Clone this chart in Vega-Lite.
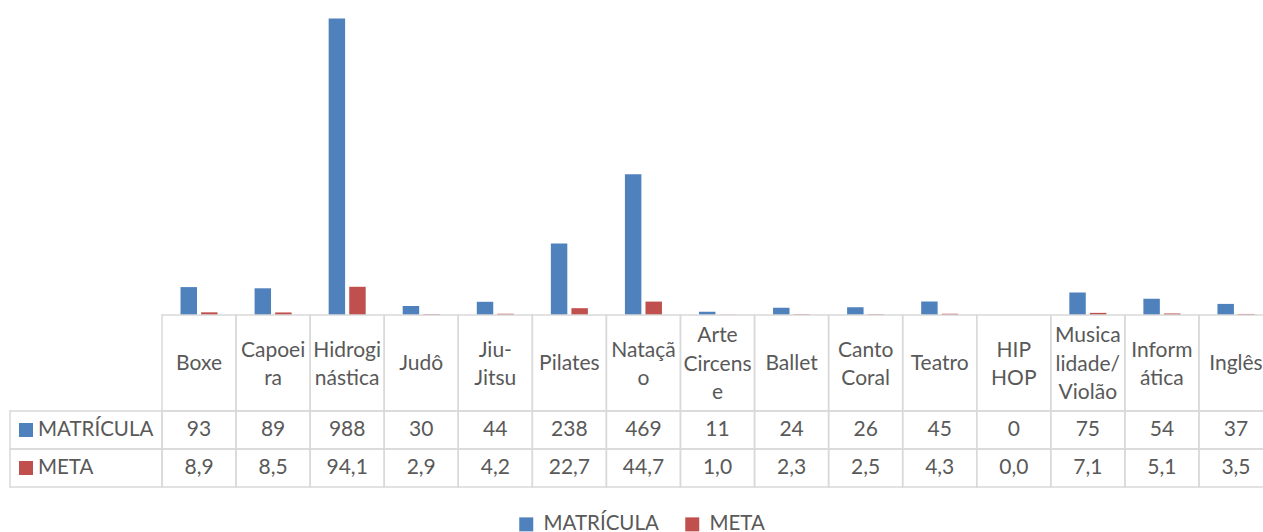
{
  "$schema": "https://vega.github.io/schema/vega-lite/v6.json",
  "padding": {"left": 9, "top": 15, "right": 0, "bottom": 0},
  "datasets": {
    "vals": [
      {"cat": "Boxe", "series": "MATRÍCULA", "value": 93},
      {"cat": "Boxe", "series": "META", "value": 8.9},
      {"cat": "Capoeira", "series": "MATRÍCULA", "value": 89},
      {"cat": "Capoeira", "series": "META", "value": 8.5},
      {"cat": "Hidroginástica", "series": "MATRÍCULA", "value": 988},
      {"cat": "Hidroginástica", "series": "META", "value": 94.1},
      {"cat": "Judô", "series": "MATRÍCULA", "value": 30},
      {"cat": "Judô", "series": "META", "value": 2.9},
      {"cat": "Jiu-Jitsu", "series": "MATRÍCULA", "value": 44},
      {"cat": "Jiu-Jitsu", "series": "META", "value": 4.2},
      {"cat": "Pilates", "series": "MATRÍCULA", "value": 238},
      {"cat": "Pilates", "series": "META", "value": 22.7},
      {"cat": "Natação", "series": "MATRÍCULA", "value": 469},
      {"cat": "Natação", "series": "META", "value": 44.7},
      {"cat": "Arte Circense", "series": "MATRÍCULA", "value": 11},
      {"cat": "Arte Circense", "series": "META", "value": 1.0},
      {"cat": "Ballet", "series": "MATRÍCULA", "value": 24},
      {"cat": "Ballet", "series": "META", "value": 2.3},
      {"cat": "Canto Coral", "series": "MATRÍCULA", "value": 26},
      {"cat": "Canto Coral", "series": "META", "value": 2.5},
      {"cat": "Teatro", "series": "MATRÍCULA", "value": 45},
      {"cat": "Teatro", "series": "META", "value": 4.3},
      {"cat": "HIP HOP", "series": "MATRÍCULA", "value": 0},
      {"cat": "HIP HOP", "series": "META", "value": 0.0},
      {"cat": "Musicalidade/Violão", "series": "MATRÍCULA", "value": 75},
      {"cat": "Musicalidade/Violão", "series": "META", "value": 7.1},
      {"cat": "Informática", "series": "MATRÍCULA", "value": 54},
      {"cat": "Informática", "series": "META", "value": 5.1},
      {"cat": "Inglês", "series": "MATRÍCULA", "value": 37},
      {"cat": "Inglês", "series": "META", "value": 3.5}
    ],
    "cats": [
      {"cat": "Boxe", "label": ["Boxe"]},
      {"cat": "Capoeira", "label": ["Capoei", "ra"]},
      {"cat": "Hidroginástica", "label": ["Hidrogi", "nástica"]},
      {"cat": "Judô", "label": ["Judô"]},
      {"cat": "Jiu-Jitsu", "label": ["Jiu-", "Jitsu"]},
      {"cat": "Pilates", "label": ["Pilates"]},
      {"cat": "Natação", "label": ["Nataçã", "o"]},
      {"cat": "Arte Circense", "label": ["Arte", "Circens", "e"]},
      {"cat": "Ballet", "label": ["Ballet"]},
      {"cat": "Canto Coral", "label": ["Canto", "Coral"]},
      {"cat": "Teatro", "label": ["Teatro"]},
      {"cat": "HIP HOP", "label": ["HIP", "HOP"]},
      {"cat": "Musicalidade/Violão", "label": ["Musica", "lidade/", "Violão"]},
      {"cat": "Informática", "label": ["Inform", "ática"]},
      {"cat": "Inglês", "label": ["Inglês"]}
    ],
    "series": [
      {"series": "MATRÍCULA"},
      {"series": "META"}
    ]
  },
  "columns": 2,
  "spacing": 0,
  "bounds": "flush",
  "concat": [
    {
      "width": 152, "height": 300,
      "data": {"values": []},
      "mark": "point"
    },
    {
      "width": 1111, "height": 300,
      "data": {"name": "vals"},
      "mark": {"type": "bar"},
      "encoding": {
        "x": {"field": "cat", "type": "nominal", "sort": null, "axis": null, "scale": {"paddingInner": 0, "paddingOuter": 0}},
        "xOffset": {"field": "series", "type": "nominal", "sort": ["MATRÍCULA", "META"], "scale": {"paddingInner": 0.2, "paddingOuter": 0.9}},
        "y": {"field": "value", "type": "quantitative", "axis": null, "scale": {"domain": [0, 1000]}},
        "color": {
          "field": "series", "type": "nominal",
          "scale": {"domain": ["MATRÍCULA", "META"], "range": ["#4F81BD", "#C0504D"]},
          "legend": {
            "orient": "none", "legendX": 506, "legendY": 499,
            "direction": "horizontal", "title": null,
            "symbolType": "square", "symbolSize": 196, "symbolStrokeWidth": 0,
            "labelFont": "Lato", "labelFontSize": 20.5, "labelColor": "#595959",
            "labelOffset": 7, "columnPadding": 23, "padding": 0
          }
        }
      }
    },
    {
      "width": 152, "height": 96,
      "data": {"values": []},
      "mark": "point"
    },
    {
      "width": 1111, "height": 96,
      "data": {"name": "cats"},
      "encoding": {
        "x": {"field": "cat", "type": "nominal", "sort": null, "axis": null, "scale": {"paddingInner": 0, "paddingOuter": 0}}
      },
      "layer": [
        {
          "mark": {"type": "rect", "filled": false, "color": "#d9d9d9", "strokeWidth": 1.5}
        },
        {
          "transform": [{"filter": "length(datum.label) == 1"}],
          "mark": {"type": "text", "font": "Lato", "fontSize": 21, "color": "#595959", "lineHeight": 28.5, "baseline": "middle", "align": "center", "dy": 1},
          "encoding": {
            "x": {"field": "cat", "type": "nominal", "sort": null, "axis": null, "bandPosition": 0.5},
            "text": {"field": "label"}
          }
        },
        {
          "transform": [{"filter": "length(datum.label) == 2"}],
          "mark": {"type": "text", "font": "Lato", "fontSize": 21, "color": "#595959", "lineHeight": 28.5, "baseline": "middle", "align": "center", "dy": -12.5},
          "encoding": {
            "x": {"field": "cat", "type": "nominal", "sort": null, "axis": null, "bandPosition": 0.5},
            "text": {"field": "label"}
          }
        },
        {
          "transform": [{"filter": "length(datum.label) == 3"}],
          "mark": {"type": "text", "font": "Lato", "fontSize": 21, "color": "#595959", "lineHeight": 28.5, "baseline": "middle", "align": "center", "dy": -27},
          "encoding": {
            "x": {"field": "cat", "type": "nominal", "sort": null, "axis": null, "bandPosition": 0.5},
            "text": {"field": "label"}
          }
        }
      ]
    },
    {
      "width": 152, "height": 76,
      "data": {"name": "series"},
      "encoding": {
        "y": {"field": "series", "type": "nominal", "sort": ["MATRÍCULA", "META"], "axis": null, "scale": {"paddingInner": 0, "paddingOuter": 0}}
      },
      "layer": [
        {
          "mark": {"type": "rect", "filled": false, "color": "#d9d9d9", "strokeWidth": 1.5}
        },
        {
          "mark": {"type": "point", "shape": "square", "filled": true, "size": 196, "opacity": 1, "x": 16},
          "encoding": {
            "y": {"field": "series", "type": "nominal", "sort": ["MATRÍCULA", "META"], "axis": null, "bandPosition": 0.5},
            "color": {"field": "series", "type": "nominal", "scale": {"domain": ["MATRÍCULA", "META"], "range": ["#4F81BD", "#C0504D"]}, "legend": null}
          }
        },
        {
          "mark": {"type": "text", "font": "Lato", "fontSize": 20.5, "color": "#595959", "align": "left", "baseline": "middle", "x": 28},
          "encoding": {
            "y": {"field": "series", "type": "nominal", "sort": ["MATRÍCULA", "META"], "axis": null, "bandPosition": 0.5},
            "text": {"field": "series"}
          }
        }
      ]
    },
    {
      "width": 1111, "height": 76,
      "data": {"name": "vals"},
      "layer": [
        {
          "mark": {"type": "rect", "filled": false, "color": "#d9d9d9", "strokeWidth": 1.5},
          "encoding": {
            "x": {"field": "cat", "type": "nominal", "sort": null, "axis": null, "scale": {"paddingInner": 0, "paddingOuter": 0}},
            "y": {"field": "series", "type": "nominal", "sort": ["MATRÍCULA", "META"], "axis": null, "scale": {"paddingInner": 0, "paddingOuter": 0}}
          }
        },
        {
          "transform": [{"filter": "datum.series === 'MATRÍCULA'"}],
          "mark": {"type": "text", "font": "Lato", "fontSize": 21, "color": "#595959", "baseline": "middle", "align": "center"},
          "encoding": {
            "x": {"field": "cat", "type": "nominal", "sort": null, "axis": null, "bandPosition": 0.5},
            "y": {"field": "series", "type": "nominal", "sort": ["MATRÍCULA", "META"], "axis": null, "bandPosition": 0.5},
            "text": {"field": "value", "type": "quantitative", "format": "d"}
          }
        },
        {
          "transform": [{"filter": "datum.series === 'META'"}],
          "mark": {"type": "text", "font": "Lato", "fontSize": 21, "color": "#595959", "baseline": "middle", "align": "center"},
          "encoding": {
            "x": {"field": "cat", "type": "nominal", "sort": null, "axis": null, "bandPosition": 0.5},
            "y": {"field": "series", "type": "nominal", "sort": ["MATRÍCULA", "META"], "axis": null, "bandPosition": 0.5},
            "text": {"field": "value", "type": "quantitative", "format": ".1f"}
          }
        }
      ]
    }
  ],
  "config": {
    "view": {"stroke": null},
    "font": "Lato",
    "locale": {"number": {"decimal": ",", "thousands": ".", "grouping": [3], "currency": ["R$", ""]}}
  }
}
